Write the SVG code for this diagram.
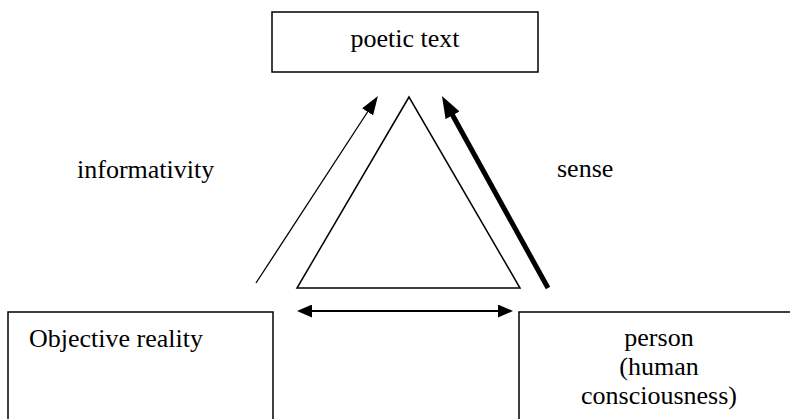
<svg xmlns="http://www.w3.org/2000/svg" width="790" height="419" viewBox="0 0 790 419">
<style>
.box{fill:#fff;stroke:#000;stroke-width:1.5}
.t{font-family:'Liberation Serif',serif;font-size:26px;fill:#000}
.tri{fill:none;stroke:#000;stroke-width:1.5;stroke-linejoin:miter}
</style>
<defs>
<marker id="thin" markerUnits="userSpaceOnUse" viewBox="0 0 19 13" markerWidth="19" markerHeight="13" refX="13" refY="6.5" orient="auto"><path d="M0,0 L19,6.5 L0,13 z" fill="#000"/></marker>
<marker id="thick" markerUnits="userSpaceOnUse" viewBox="0 0 22 16" markerWidth="22" markerHeight="16" refX="12" refY="8" orient="auto"><path d="M0,0 L22,8 L0,16 z" fill="#000"/></marker>
<marker id="dbl" markerUnits="userSpaceOnUse" viewBox="0 0 15 13" markerWidth="15" markerHeight="13" refX="10" refY="6.5" orient="auto-start-reverse"><path d="M0,0 L15,6.5 L0,13 z" fill="#000"/></marker>
</defs>
<g id="poetic-text">
<rect class="box" x="272" y="12" width="266" height="60"/>
<text class="t" x="405" y="47" text-anchor="middle" font-family="Liberation Serif">poetic text</text>
</g>
<g id="objective-reality">
<rect class="box" x="8" y="312" width="265" height="120"/>
<text class="t" x="29" y="347" font-family="Liberation Serif">Objective reality</text>
</g>
<g id="person">
<rect class="box" x="519" y="312" width="290" height="120"/>
<text class="t" x="659" y="346" text-anchor="middle" font-family="Liberation Serif">person</text>
<text class="t" x="659" y="375" text-anchor="middle" font-family="Liberation Serif">(human</text>
<text class="t" x="659" y="404" text-anchor="middle" font-family="Liberation Serif">consciousness)</text>
</g>
<g id="triangle">
<polygon class="tri" points="409,97 297,288 520,288"/>
</g>
<g id="labels">
<text class="t" x="77" y="178" font-family="Liberation Serif">informativity</text>
<text class="t" x="557" y="177" font-family="Liberation Serif">sense</text>
</g>
<g id="connectors">
<line x1="256" y1="283" x2="374.7" y2="101" stroke="#000" stroke-width="1.3" marker-end="url(#thin)"/>
<line x1="548" y1="288" x2="446.8" y2="104.8" stroke="#000" stroke-width="5" marker-end="url(#thick)"/>
<line x1="302" y1="311" x2="508" y2="311" stroke="#000" stroke-width="2" marker-start="url(#dbl)" marker-end="url(#dbl)"/>
</g>
</svg>
